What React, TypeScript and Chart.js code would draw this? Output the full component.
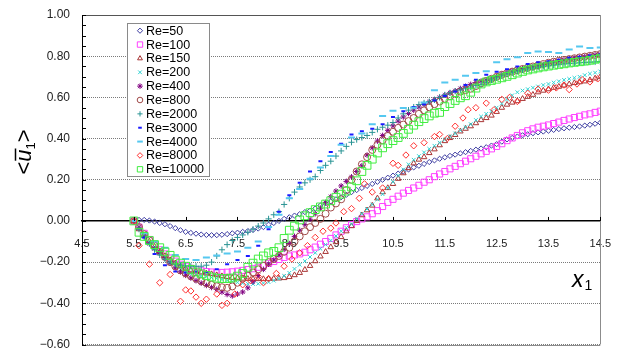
import React, { useEffect, useRef } from "react";
import { Chart, registerables } from "chart.js";
import { drawPoint } from "chart.js/helpers";

Chart.register(...registerables);

// ---------- DATA ----------
const xFine = [
  5.5, 5.6, 5.7, 5.8, 5.9, 6.0, 6.1, 6.2, 6.3, 6.4,
  6.5, 6.6, 6.7, 6.8, 6.9, 7.0, 7.1, 7.2, 7.3, 7.4,
  7.5, 7.6, 7.7, 7.8, 7.9, 8.0, 8.1, 8.2, 8.3, 8.4,
  8.5, 8.6, 8.7, 8.8, 8.9, 9.0, 9.1, 9.2, 9.3, 9.4,
  9.5, 9.6, 9.7, 9.8, 9.9, 10.0, 10.1, 10.2, 10.3, 10.4,
  10.5, 10.6, 10.7, 10.8, 10.9, 11.0, 11.1, 11.2, 11.3, 11.4,
  11.5, 11.6, 11.7, 11.8, 11.9, 12.0, 12.1, 12.2, 12.3, 12.4,
  12.5, 12.6, 12.7, 12.8, 12.9, 13.0, 13.1, 13.2, 13.3, 13.4,
  13.5, 13.6, 13.7, 13.8, 13.9, 14.0, 14.1, 14.2, 14.3, 14.4,
  14.5,
];

const xCoarse = [
  5.5, 5.7, 5.9, 6.1, 6.3, 6.5, 6.7, 6.9, 7.1, 7.3,
  7.5, 7.7, 7.9, 8.1, 8.3, 8.5, 8.7, 8.9, 9.1, 9.3,
  9.5, 9.7, 9.9, 10.1, 10.3, 10.5, 10.7, 10.9, 11.1, 11.3,
  11.5, 11.7, 11.9, 12.1, 12.3, 12.5, 12.7, 12.9, 13.1, 13.3,
  13.5, 13.7, 13.9, 14.1, 14.3, 14.5,
];

const x8000 = [
  5.5, 5.6, 5.8, 6.0, 6.2, 6.4, 6.5, 6.6, 6.7, 6.8,
  6.9, 7.1, 7.2, 7.3, 7.45, 7.6, 7.75, 7.9, 8.0, 8.1,
  8.25, 8.4, 8.55, 8.7, 8.85, 9.0, 9.15, 9.3, 9.4, 9.55,
  9.7, 9.85, 9.95, 10.1, 10.3, 10.5, 10.6, 10.75, 10.9, 11.1,
  11.3, 11.4, 11.55, 11.7, 11.85, 11.95, 12.1, 12.3, 12.45, 12.6,
  12.75, 12.9, 13.1, 13.3, 13.5, 13.65, 13.8, 13.9, 14.05, 14.15,
  14.3, 14.45,
];

const re50 = [
  0, 0.005, 0.005, 0.002, -0.003, -0.01, -0.016, -0.025, -0.035, -0.045,
  -0.053, -0.058, -0.062, -0.066, -0.068, -0.069, -0.069, -0.067, -0.064, -0.06,
  -0.057, -0.053, -0.049, -0.044, -0.037, -0.03, -0.018, -0.01, 0.0, 0.01,
  0.018, 0.026, 0.033, 0.043, 0.05, 0.06, 0.075, 0.085, 0.095, 0.105,
  0.115, 0.127, 0.14, 0.15, 0.16, 0.17, 0.18, 0.19, 0.2, 0.21,
  0.22, 0.23, 0.24, 0.25, 0.26, 0.268, 0.277, 0.286, 0.294, 0.302,
  0.309, 0.316, 0.322, 0.328, 0.334, 0.34, 0.346, 0.352, 0.358, 0.366,
  0.373, 0.385, 0.396, 0.403, 0.41, 0.416, 0.421, 0.426, 0.43, 0.434,
  0.438, 0.442, 0.446, 0.45, 0.453, 0.456, 0.459, 0.463, 0.467, 0.472,
  0.477,
];

const re100 = [
  0, -0.03, -0.06, -0.09, -0.115, -0.14, -0.16, -0.18, -0.195, -0.21,
  -0.22, -0.23, -0.237, -0.242, -0.246, -0.248, -0.25, -0.25, -0.249, -0.247,
  -0.244, -0.24, -0.236, -0.232, -0.225, -0.216, -0.206, -0.197, -0.187, -0.177,
  -0.17, -0.165, -0.16, -0.152, -0.14, -0.127, -0.113, -0.1, -0.085, -0.068,
  -0.05, -0.033, -0.017, -0.003, 0.01, 0.02, 0.035, 0.05, 0.07, 0.09,
  0.105, 0.12, 0.135, 0.148, 0.16, 0.173, 0.188, 0.2, 0.215, 0.228,
  0.24, 0.253, 0.265, 0.278, 0.29, 0.302, 0.314, 0.326, 0.338, 0.35,
  0.362, 0.375, 0.39, 0.403, 0.415, 0.428, 0.438, 0.447, 0.455, 0.46,
  0.466, 0.473, 0.48, 0.488, 0.495, 0.502, 0.508, 0.515, 0.52, 0.527,
  0.533,
];

const re150 = [
  0, -0.04, -0.07, -0.1, -0.125, -0.15, -0.17, -0.19, -0.205, -0.22,
  -0.232, -0.24, -0.245, -0.25, -0.255, -0.258, -0.263, -0.268, -0.272, -0.276,
  -0.278, -0.28, -0.281, -0.282, -0.282, -0.282, -0.281, -0.28, -0.279, -0.277,
  -0.272, -0.263, -0.252, -0.237, -0.218, -0.195, -0.172, -0.15, -0.127, -0.103,
  -0.078, -0.05, -0.025, 0.0, 0.028, 0.052, 0.075, 0.11, 0.14, 0.16,
  0.18, 0.205, 0.232, 0.257, 0.28, 0.298, 0.31, 0.33, 0.348, 0.368,
  0.388, 0.403, 0.418, 0.435, 0.448, 0.46, 0.475, 0.49, 0.5, 0.512,
  0.53, 0.55, 0.565, 0.575, 0.582, 0.593, 0.603, 0.613, 0.625, 0.633,
  0.64, 0.647, 0.652, 0.658, 0.664, 0.67, 0.674, 0.678, 0.684, 0.692,
  0.7,
];

const re200 = [
  0, -0.04, -0.075, -0.105, -0.13, -0.155, -0.18, -0.2, -0.22, -0.235,
  -0.248, -0.256, -0.262, -0.267, -0.271, -0.275, -0.279, -0.284, -0.289, -0.294,
  -0.298, -0.302, -0.305, -0.306, -0.305, -0.302, -0.297, -0.29, -0.28, -0.267,
  -0.252, -0.233, -0.213, -0.195, -0.175, -0.155, -0.135, -0.115, -0.095, -0.073,
  -0.05, -0.033, -0.015, 0.01, 0.035, 0.058, 0.08, 0.105, 0.13, 0.16,
  0.19, 0.22, 0.25, 0.275, 0.297, 0.315, 0.333, 0.35, 0.365, 0.38,
  0.395, 0.41, 0.425, 0.44, 0.455, 0.47, 0.49, 0.507, 0.52, 0.533,
  0.55, 0.57, 0.59, 0.61, 0.625, 0.633, 0.64, 0.647, 0.653, 0.66,
  0.665, 0.672, 0.678, 0.685, 0.69, 0.695, 0.7, 0.708, 0.715, 0.72,
  0.726,
];

const re400 = [
  0, -0.03, -0.075, -0.11, -0.135, -0.152, -0.18, -0.205, -0.228, -0.247,
  -0.264, -0.277, -0.29, -0.302, -0.313, -0.323, -0.332, -0.345, -0.357, -0.364,
  -0.355, -0.345, -0.325, -0.295, -0.265, -0.235, -0.21, -0.19, -0.165, -0.138,
  -0.11, -0.075, -0.045, -0.018, 0.008, 0.035, 0.062, 0.09, 0.118, 0.145,
  0.17, 0.192, 0.214, 0.24, 0.268, 0.32, 0.355, 0.388, 0.415, 0.44,
  0.462, 0.485, 0.505, 0.522, 0.538, 0.553, 0.566, 0.578, 0.589, 0.6,
  0.611, 0.622, 0.632, 0.643, 0.654, 0.663, 0.672, 0.679, 0.684, 0.69,
  0.702, 0.712, 0.72, 0.728, 0.735, 0.74, 0.745, 0.749, 0.754, 0.76,
  0.766, 0.772, 0.777, 0.782, 0.786, 0.79, 0.794, 0.798, 0.802, 0.806,
  0.81,
];

const re800 = [
  0, -0.03, -0.065, -0.095, -0.12, -0.15, -0.175, -0.2, -0.22, -0.24,
  -0.255, -0.268, -0.28, -0.292, -0.302, -0.31, -0.317, -0.322, -0.325, -0.318,
  -0.3, -0.28, -0.265, -0.25, -0.235, -0.218, -0.2, -0.185, -0.17, -0.15,
  -0.13, -0.1, -0.075, -0.05, -0.03, -0.01, 0.01, 0.035, 0.065, 0.085,
  0.105, 0.15, 0.2, 0.24, 0.275, 0.31, 0.345, 0.37, 0.392, 0.413,
  0.433, 0.452, 0.468, 0.485, 0.5, 0.52, 0.537, 0.552, 0.567, 0.58,
  0.593, 0.605, 0.618, 0.628, 0.635, 0.642, 0.655, 0.668, 0.68, 0.69,
  0.7, 0.71, 0.718, 0.725, 0.732, 0.738, 0.744, 0.75, 0.756, 0.762,
  0.768, 0.773, 0.778, 0.782, 0.786, 0.79, 0.794, 0.798, 0.802, 0.806,
  0.81,
];

const re2000 = [
  0, -0.04, -0.08, -0.11, -0.14, -0.165, -0.185, -0.2, -0.21, -0.215,
  -0.218, -0.22, -0.22, -0.22, -0.215, -0.2, -0.17, -0.14, -0.115, -0.095,
  -0.08, -0.068, -0.055, -0.04, -0.025, -0.01, 0.01, 0.03, 0.045, 0.08,
  0.11, 0.14, 0.165, 0.185, 0.2, 0.215, 0.245, 0.27, 0.29, 0.315,
  0.34, 0.362, 0.382, 0.395, 0.405, 0.415, 0.43, 0.445, 0.455, 0.465,
  0.478, 0.5, 0.52, 0.538, 0.553, 0.565, 0.573, 0.579, 0.588, 0.6,
  0.612, 0.622, 0.63, 0.636, 0.642, 0.65, 0.657, 0.663, 0.672, 0.684,
  0.695, 0.705, 0.713, 0.72, 0.727, 0.733, 0.738, 0.742, 0.746, 0.75,
  0.753, 0.756, 0.759, 0.762, 0.764, 0.766, 0.768, 0.77, 0.771, 0.772,
  0.774,
];

const re3000 = [
  0, -0.08, -0.16, -0.215, -0.245, -0.25, -0.245, -0.25, -0.235, -0.21,
  -0.19, -0.17, -0.12, -0.04, 0.045, 0.125, 0.185, 0.24, 0.29, 0.335,
  0.375, 0.42, 0.435, 0.448, 0.47, 0.505, 0.533, 0.553, 0.567, 0.585,
  0.607, 0.628, 0.66, 0.685, 0.71, 0.725, 0.736, 0.75, 0.762, 0.77,
  0.776, 0.783, 0.792, 0.797, 0.803, 0.81,
];

const re4000 = [
  0, -0.06, -0.1, -0.13, -0.165, -0.185, -0.19, -0.178, -0.168, -0.158,
  -0.148, -0.13, -0.1, -0.03, 0.03, 0.11, 0.155, 0.205, 0.26, 0.315,
  0.37, 0.405, 0.425, 0.47, 0.51, 0.535, 0.548, 0.55, 0.575, 0.635,
  0.672, 0.685, 0.705, 0.718, 0.727, 0.77, 0.785, 0.795, 0.815, 0.823,
  0.82, 0.815, 0.833, 0.847, 0.84, 0.842,
];

const re8000 = [
  0, -0.12, -0.21, -0.3, -0.26, -0.39, -0.335, -0.34, -0.37, -0.4,
  -0.38, -0.355, -0.41, -0.4, -0.355, -0.31, -0.29, -0.27, -0.3, -0.28,
  -0.255, -0.22, -0.185, -0.155, -0.12, -0.08, -0.05, -0.035, -0.01, 0.045,
  0.06, 0.11, 0.18, 0.14, 0.16, 0.28, 0.27, 0.32, 0.365, 0.38,
  0.41, 0.42, 0.4, 0.46, 0.5, 0.54, 0.55, 0.572, 0.54, 0.59,
  0.6, 0.58, 0.62, 0.64, 0.635, 0.646, 0.66, 0.638, 0.665, 0.686,
  0.675, 0.69,
];

const re10000 = [
  0, -0.055, -0.075, -0.095, -0.115, -0.13, -0.15, -0.167, -0.19, -0.205,
  -0.22, -0.235, -0.248, -0.257, -0.265, -0.272, -0.278, -0.28, -0.28, -0.277,
  -0.268, -0.255, -0.225, -0.205, -0.185, -0.17, -0.155, -0.148, -0.13, -0.085,
  -0.045, -0.025, 0.005, 0.025, 0.04, 0.055, 0.068, 0.082, 0.098, 0.115,
  0.13, 0.145, 0.165, 0.195, 0.24, 0.27, 0.3, 0.33, 0.355, 0.375,
  0.39, 0.405, 0.425, 0.445, 0.465, 0.482, 0.497, 0.51, 0.523, 0.527,
  0.555, 0.57, 0.585, 0.598, 0.608, 0.625, 0.645, 0.665, 0.675, 0.682,
  0.688, 0.695, 0.702, 0.71, 0.718, 0.726, 0.733, 0.738, 0.743, 0.748,
  0.752, 0.756, 0.76, 0.763, 0.767, 0.77, 0.773, 0.776, 0.78, 0.785,
  0.79,
];

const seriesLabels = [
  "Re=50", "Re=100", "Re=150", "Re=200", "Re=400", "Re=800",
  "Re=2000", "Re=3000", "Re=4000", "Re=8000", "Re=10000",
];

const xTickMin = 4.5;
const xTickMax = 14.5;
const yTickMin = -0.6;
const yTickMax = 1.0;

// ---------- STYLES ----------
const seriesStyles = [
  { xs: xFine, ys: re50, shape: "rectRot", r: 2.6, lr: 2.6, bw: 1, color: "#3a3aa0" },
  { xs: xFine, ys: re100, shape: "rect", r: 4.3, lr: 3.8, bw: 1, color: "#ff40ff" },
  { xs: xFine, ys: re150, shape: "triangle", r: 3.2, lr: 2.8, bw: 1, color: "#a83434" },
  { xs: xFine, ys: re200, shape: "crossRot", r: 2.6, lr: 2.6, bw: 1, color: "#2fd3d3" },
  { xs: xFine, ys: re400, shape: "star", r: 2.8, lr: 2.8, bw: 1, color: "#800080" },
  { xs: xFine, ys: re800, shape: "circle", r: 3.5, lr: 2.8, bw: 1, color: "#a04a48" },
  { xs: xFine, ys: re2000, shape: "cross", r: 3.1, lr: 2.6, bw: 1, color: "#2a9494" },
  { xs: xCoarse, ys: re3000, shape: "line", r: 2, lr: 1.8, bw: 2, color: "#1a1aff" },
  { xs: xCoarse, ys: re4000, shape: "line", r: 3.5, lr: 2.8, bw: 2, color: "#55c8f0" },
  { xs: x8000, ys: re8000, shape: "rectRot", r: 3.2, lr: 2.8, bw: 1, color: "#ff3030" },
  { xs: xFine, ys: re10000, shape: "rect", r: 5.5, lr: 3.8, bw: 1, color: "#40ee40" },
];

const FONT = "'Liberation Sans', Arial, Helvetica, sans-serif";

function fmtY(v: number) {
  const n = Math.round(v * 100) / 100;
  const s = Math.abs(n).toFixed(2);
  return n < -1e-9 ? "\u2212" + s : s;
}

export default function App() {
  const ref = useRef<HTMLCanvasElement>(null);

  useEffect(() => {
    document.body.style.margin = "0";
    Chart.defaults.font.family = FONT;

    const decor = {
      id: "decor",
      afterDraw(chart: any) {
        const ctx = chart.ctx as CanvasRenderingContext2D;
        const { left, right, top, bottom } = chart.chartArea;
        const xs = chart.scales.x;
        const ys = chart.scales.y;
        ctx.save();

        // frame
        ctx.lineWidth = 1;
        ctx.strokeStyle = "#555";
        ctx.beginPath();
        ctx.moveTo(left, Math.round(top) + 0.5);
        ctx.lineTo(right, Math.round(top) + 0.5);
        ctx.stroke();
        ctx.strokeStyle = "#8c8c8c";
        ctx.beginPath();
        ctx.moveTo(Math.round(right) + 0.5, top);
        ctx.lineTo(Math.round(right) + 0.5, bottom);
        ctx.moveTo(left, Math.round(bottom) + 0.5);
        ctx.lineTo(right, Math.round(bottom) + 0.5);
        ctx.stroke();

        // minor ticks on y axis (inward)
        ctx.strokeStyle = "#000";
        ctx.beginPath();
        for (let k = 0; k <= 32; k++) {
          const v = yTickMin + k * 0.05;
          const py = Math.round(ys.getPixelForValue(v)) + 0.5;
          ctx.moveTo(left, py);
          ctx.lineTo(left + 4, py);
        }
        // major ticks on x axis (upward from zero line)
        const y0 = ys.getPixelForValue(0);
        for (let k = 0; k <= 10; k++) {
          const v = xTickMin + k;
          const px = Math.round(xs.getPixelForValue(v)) + 0.5;
          ctx.moveTo(px, y0);
          ctx.lineTo(px, y0 - 4);
        }
        ctx.stroke();

        // legend box
        const bx = 127.5, by = 23.5, bw = 82, bh = 153;
        ctx.fillStyle = "#fff";
        ctx.fillRect(bx, by, bw, bh);
        ctx.strokeStyle = "#8a8a8a";
        ctx.lineWidth = 1;
        ctx.strokeRect(bx, by, bw, bh);
        ctx.font = `12.5px ${FONT}`;
        ctx.textBaseline = "middle";
        ctx.textAlign = "left";
        seriesStyles.forEach((s, i) => {
          const cy = 30.7 + i * 13.86;
          ctx.save();
          ctx.strokeStyle = s.color;
          ctx.fillStyle = "rgba(0,0,0,0)";
          ctx.lineWidth = s.bw;
          drawPoint(ctx, { pointStyle: s.shape as any, radius: s.lr, borderWidth: s.bw, rotation: 0 } as any, 140, cy);
          ctx.restore();
          ctx.fillStyle = "#000";
          ctx.fillText(seriesLabels[i], 146, cy + 0.5);
        });

        // y axis title  <u1> with overline, rotated
        ctx.save();
        ctx.translate(0, 152);
        ctx.rotate(-Math.PI / 2);
        ctx.fillStyle = "#000";
        ctx.strokeStyle = "#000";
        ctx.textBaseline = "alphabetic";
        const big = `22px ${FONT}`;
        const ital = `italic 22px ${FONT}`;
        const sub = `13px ${FONT}`;
        ctx.font = big;
        const wl = ctx.measureText("<").width;
        const wr = ctx.measureText(">").width;
        ctx.font = ital;
        const wu = ctx.measureText("u").width;
        ctx.font = sub;
        const w1 = ctx.measureText("1").width;
        const total = wl + wu + w1 + wr;
        let cx = -total / 2;
        const base = 31;
        ctx.font = big;
        ctx.fillText("<", cx, base);
        cx += wl;
        ctx.font = ital;
        ctx.fillText("u", cx, base);
        ctx.lineWidth = 1.5;
        ctx.beginPath();
        ctx.moveTo(cx + 1, base - 15.5);
        ctx.lineTo(cx + wu + 1, base - 15.5);
        ctx.stroke();
        cx += wu;
        ctx.font = sub;
        ctx.fillText("1", cx, base + 4);
        cx += w1;
        ctx.font = big;
        ctx.fillText(">", cx, base);
        ctx.restore();

        // x axis title  x1
        ctx.fillStyle = "#000";
        ctx.textBaseline = "alphabetic";
        ctx.font = `italic 23px ${FONT}`;
        ctx.fillText("x", 572, 287);
        const wx = ctx.measureText("x").width;
        ctx.font = `14px ${FONT}`;
        ctx.fillText("1", 572 + wx + 1, 290);

        ctx.restore();
      },
    };

    const datasets = seriesStyles.map((s, i) => ({
      label: seriesLabels[i],
      data: s.xs.map((x, j) => ({ x, y: s.ys[j] })),
      showLine: false,
      pointStyle: s.shape,
      pointRadius: s.r,
      pointBorderWidth: s.bw,
      pointBorderColor: s.color,
      pointBackgroundColor: "rgba(0,0,0,0)",
      borderColor: s.color,
      backgroundColor: "rgba(0,0,0,0)",
      order: seriesStyles.length - i,
    }));

    const chart = new Chart(ref.current as HTMLCanvasElement, {
      type: "scatter",
      data: { datasets } as any,
      plugins: [decor],
      options: {
        animation: false,
        responsive: false,
        events: [],
        layout: { padding: { left: 0, top: 15, right: 22, bottom: 5 } },
        plugins: { legend: { display: false }, tooltip: { enabled: false } },
        scales: {
          x: {
            type: "linear",
            position: { y: 0 } as any,
            min: xTickMin,
            max: xTickMax,
            ticks: {
              stepSize: 1,
              padding: 16,
              color: "#222",
              font: { size: 11, family: FONT },
              maxRotation: 0,
              autoSkip: false,
              callback: (v: any) => Number(v).toFixed(1),
            },
            grid: { display: false, drawTicks: false },
            border: { display: true, color: "#000", width: 1.5 },
          },
          y: {
            type: "linear",
            min: yTickMin,
            max: yTickMax,
            ticks: {
              stepSize: 0.2,
              padding: 12,
              color: "#222",
              font: { size: 12, family: FONT },
              callback: (v: any) => fmtY(Number(v)),
            },
            grid: {
              drawTicks: false,
              lineWidth: 1,
              color: (c: any) => {
                const v = c.tick ? c.tick.value : null;
                if (v === null || v === undefined) return "rgba(0,0,0,0)";
                if (Math.abs(v) < 1e-6) return "rgba(0,0,0,0)";
                return "#7a7a7a";
              },
            },
            border: { display: true, color: "#000", width: 1, dash: [1, 1] },
            afterFit: (s: any) => {
              s.width = 82;
              s.paddingTop = 0;
              s.paddingBottom = 0;
            },
          } as any,
        },
      } as any,
    });

    return () => chart.destroy();
  }, []);

  return (
    <div style={{ width: 627, height: 351, position: "relative", background: "#fff", overflow: "hidden" }}>
      <canvas ref={ref} width={627} height={351} style={{ display: "block" }} />
    </div>
  );
}
